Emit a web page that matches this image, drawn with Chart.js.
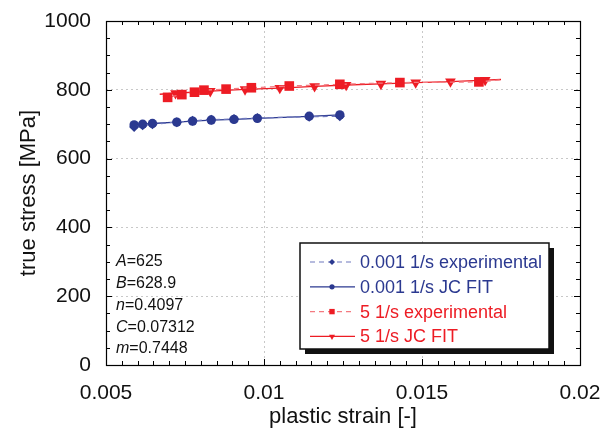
<!DOCTYPE html>
<html>
<head>
<meta charset="utf-8">
<script src="https://cdn.jsdelivr.net/npm/chart.js@4"></script>
<style>
  html, body { margin: 0; padding: 0; background: #fff; }
  #wrap { width: 603px; height: 432px; }
</style>
</head>
<body>
<div id="wrap"><canvas id="chart" width="603" height="432"></canvas></div>
<script>
// strain rate 0.001 1/s
const slowStrain = [0.00589, 0.00616, 0.00647, 0.00724, 0.00774, 0.00833, 0.00905, 0.00979, 0.01143, 0.0124];
const slowExpStress = [692, 697, 700, 706, 710, 713, 715, 718, 722, 723];
const slowFitStress = [698, 700, 702, 706, 709, 712, 714, 717, 723, 727];

// strain rate 5 1/s
const fastExpStrain = [0.0068, 0.00695, 0.0074, 0.0078, 0.0081, 0.0088, 0.0096, 0.0108, 0.0124, 0.0143, 0.0168, 0.0175];
const fastExpStress = [782, 778, 786, 793, 799, 802, 806, 811, 816, 821, 823, 829];
const fastExpMarker = [false, true, true, true, true, true, true, true, true, true, true, false];
const fastFitStrain = [0.0067, 0.0072, 0.0083, 0.0094, 0.0105, 0.0116, 0.0126, 0.0137, 0.0148, 0.0159, 0.0170, 0.0175];
const fastFitStress = [787, 790, 796, 801, 805, 810, 814, 817, 821, 824, 828, 830];
const fastFitMarker = [false, true, true, true, true, true, true, true, true, true, true, false];

const xTicks = [0.005, 0.01, 0.015, 0.02];
const xTickLabels = ["0.005", "0.01", "0.015", "0.02"];
const yTicks = [0, 200, 400, 600, 800, 1000];
const yTickLabels = ["0", "200", "400", "600", "800", "1000"];

const jcParams = [
    ["A", "=625"],
    ["B", "=628.9"],
    ["n", "=0.4097"],
    ["C", "=0.07312"],
    ["m", "=0.7448"]
];

const BLUE = "#2b3990";
const BLUE_LIGHT = "#6f78bd";
const RED = "#ed1c24";
const RED_LIGHT = "#f47a80";
const FONT = "'Liberation Sans', Arial, sans-serif";

const pts = (xs, ys) => xs.map((x, i) => ({x: x, y: ys[i]}));

const datasets = [
    {
        label: "0.001 1/s experimental",
        data: pts(slowStrain, slowExpStress),
        borderColor: BLUE_LIGHT,
        backgroundColor: BLUE,
        borderWidth: 1.3,
        borderDash: [5, 4],
        pointStyle: "rectRot",
        pointRadius: 5,
        pointBorderWidth: 0,
        legendRadius: 3
    },
    {
        label: "0.001 1/s JC FIT",
        data: pts(slowStrain, slowFitStress),
        borderColor: BLUE,
        backgroundColor: BLUE,
        borderWidth: 1.3,
        pointStyle: "circle",
        pointRadius: 4.7,
        pointBorderWidth: 0,
        legendRadius: 2.6
    },
    {
        label: "5 1/s experimental",
        data: pts(fastExpStrain, fastExpStress),
        borderColor: RED_LIGHT,
        backgroundColor: RED,
        borderWidth: 1.3,
        borderDash: [5, 4],
        pointStyle: "rect",
        pointRadius: (c) => fastExpMarker[c.dataIndex] ? 6.8 : 0,
        pointBorderWidth: 0,
        legendRadius: 3.8
    },
    {
        label: "5 1/s JC FIT",
        data: pts(fastFitStrain, fastFitStress),
        borderColor: RED,
        backgroundColor: RED,
        borderWidth: 1.3,
        pointStyle: "triangle",
        rotation: 180,
        pointRadius: (c) => fastFitMarker[c.dataIndex] ? 6.2 : 0,
        pointBorderWidth: 0,
        legendRadius: 3.5
    }
];

// frame, inward ticks on all four sides, parameter text and boxed legend
const decorations = {
    id: "decorations",
    afterDatasetsDraw(chart) {
        const ctx = chart.ctx;
        const a = chart.chartArea;
        const xs = chart.scales.x;
        const ys = chart.scales.y;
        ctx.save();
        ctx.strokeStyle = "#000";
        ctx.lineWidth = 1;

        ctx.beginPath();
        for (let v = 0.005; v <= 0.02 + 1e-9; v += 0.0005) {
            const px = Math.round(xs.getPixelForValue(v)) + 0.5;
            const major = Math.abs(v / 0.005 - Math.round(v / 0.005)) < 1e-6;
            const len = major ? 6 : 4;
            ctx.moveTo(px, a.bottom); ctx.lineTo(px, a.bottom - len);
            ctx.moveTo(px, a.top); ctx.lineTo(px, a.top + len);
        }
        for (let v = 0; v <= 1000; v += 50) {
            const py = Math.round(ys.getPixelForValue(v)) + 0.5;
            const len = v % 200 === 0 ? 6 : 4;
            ctx.moveTo(a.left, py); ctx.lineTo(a.left + len, py);
            ctx.moveTo(a.right, py); ctx.lineTo(a.right - len, py);
        }
        ctx.stroke();
        ctx.lineWidth = 1.2;
        ctx.strokeRect(Math.round(a.left) + 0.5, Math.round(a.top) + 0.5,
            Math.round(a.right - a.left), Math.round(a.bottom - a.top));

        // Johnson-Cook parameters
        ctx.fillStyle = "#111";
        ctx.textBaseline = "middle";
        ctx.textAlign = "left";
        jcParams.forEach((p, i) => {
            const y = 262 + i * 21.7;
            ctx.font = "italic 16px " + FONT;
            ctx.fillText(p[0], 116, y);
            const w = ctx.measureText(p[0]).width;
            ctx.font = "16px " + FONT;
            ctx.fillText(p[1], 116 + w, y);
        });

        // legend box with drop shadow
        const bx = 300, by = 243, bw = 249, bh = 106;
        ctx.fillStyle = "#111";
        ctx.fillRect(bx + 5, by + 5, bw, bh);
        ctx.fillStyle = "#fff";
        ctx.fillRect(bx, by, bw, bh);
        ctx.strokeStyle = "#111";
        ctx.lineWidth = 1.5;
        ctx.strokeRect(bx, by, bw, bh);

        ctx.font = "18px " + FONT;
        chart.data.datasets.forEach((ds, i) => {
            const y = by + 19 + i * 24.8;
            ctx.save();
            ctx.strokeStyle = ds.borderColor;
            ctx.lineWidth = 1.2;
            ctx.setLineDash(ds.borderDash || []);
            ctx.beginPath();
            ctx.moveTo(310, y); ctx.lineTo(355, y);
            ctx.stroke();
            ctx.restore();
            ctx.fillStyle = ds.backgroundColor;
            ctx.strokeStyle = ds.backgroundColor;
            Chart.helpers.drawPoint(ctx, {
                pointStyle: ds.pointStyle,
                radius: ds.legendRadius,
                rotation: ds.rotation || 0,
                borderWidth: 0
            }, 332, y);
            ctx.fillStyle = i < 2 ? BLUE : RED;
            ctx.fillText(ds.label, 360, y + 1);
        });
        ctx.restore();
    }
};

new Chart("chart", {
    type: "line",
    data: {datasets: datasets},
    options: {
        responsive: false,
        animation: false,
        layout: {padding: {left: 0, top: 21, right: 23, bottom: 0}},
        plugins: {
            legend: {display: false},
            tooltip: {enabled: false}
        },
        scales: {
            x: {
                type: "linear",
                min: 0.005,
                max: 0.02,
                afterFit: (s) => { s.height = 67; s.paddingLeft = 0; s.paddingRight = 0; },
                afterBuildTicks: (s) => { s.ticks = xTicks.map((v) => ({value: v})); },
                ticks: {
                    padding: 16,
                    color: "#111",
                    font: {family: FONT, size: 21},
                    callback: (v) => xTickLabels[xTicks.findIndex((t) => Math.abs(t - v) < 1e-9)]
                },
                grid: {
                    drawTicks: false,
                    color: (c) => (c.index === 0 || c.index === xTicks.length - 1) ? "rgba(0,0,0,0)" : "#c8c8c8",
                    lineWidth: 1
                },
                border: {display: false, dash: [2, 3]},
                title: {
                    display: true,
                    text: "plastic strain [-]",
                    color: "#111",
                    font: {family: FONT, size: 22},
                    padding: {top: 0, bottom: 2}
                }
            },
            y: {
                min: 0,
                max: 1000,
                afterFit: (s) => { s.width = 106; s.paddingTop = 0; s.paddingBottom = 0; },
                afterBuildTicks: (s) => { s.ticks = yTicks.map((v) => ({value: v})); },
                ticks: {
                    padding: 15,
                    color: "#111",
                    font: {family: FONT, size: 21},
                    callback: (v) => yTickLabels[yTicks.indexOf(v)]
                },
                grid: {
                    drawTicks: false,
                    color: (c) => (c.index === 0 || c.index === yTicks.length - 1) ? "rgba(0,0,0,0)" : "#c8c8c8",
                    lineWidth: 1
                },
                border: {display: false, dash: [2, 3]},
                title: {
                    display: true,
                    text: "true stress [MPa]",
                    color: "#111",
                    font: {family: FONT, size: 22},
                    padding: {top: 16, bottom: 0}
                }
            }
        }
    },
    plugins: [decorations]
});
</script>
</body>
</html>
